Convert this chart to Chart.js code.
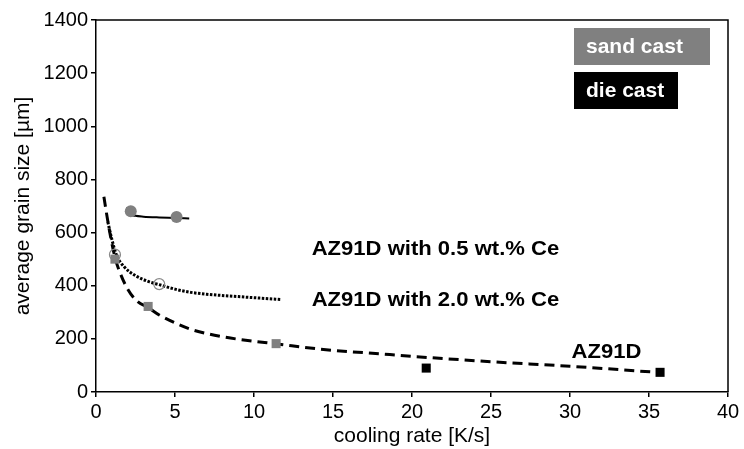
<!DOCTYPE html>
<html>
<head>
<meta charset="utf-8">
<script src="https://cdn.jsdelivr.net/npm/chart.js@4.4.1/dist/chart.umd.min.js"></script>
<style>
  html, body { margin: 0; padding: 0; background: #fff; }
  #wrap { width: 744px; height: 449px; }
</style>
</head>
<body>
<div id="wrap"><canvas id="grainChart" width="744" height="449"></canvas></div>
<script>
// measured points
const sandCeLowX = [2.2, 5.1]          // AZ91D + 0.5 wt.% Ce, sand cast
const sandCeLowY = [680, 659]
const sandCeHighX = [1.2, 4.0]         // AZ91D + 2.0 wt.% Ce
const sandCeHighY = [517, 406]
const sandBaseX = [1.2, 3.3, 11.4]     // AZ91D, sand cast
const sandBaseY = [500, 322, 182]
const dieBaseX = [20.9, 35.7]          // AZ91D, die cast
const dieBaseY = [90, 74]

// fitted trend lines
const fitCeLowX = [1.95, 2.05, 2.2, 2.5, 3, 4, 5, 5.9]
const fitCeLowY = [695, 680, 668, 663, 660, 657, 655, 653]
const fitCeHighX = [0.75, 1, 1.3, 1.8, 2.5, 3.3, 4, 5, 6, 7, 9, 11.7]
const fitCeHighY = [640, 575, 515, 470, 438, 416, 404, 387, 375, 368, 359, 348]
const fitBaseX = [0.5, 0.7, 0.9, 1.2, 1.5, 2, 2.6, 3.3, 4, 5, 6, 8, 10, 11.3, 14.4, 18.6, 20.3, 25, 30, 35.5]
const fitBaseY = [735, 660, 592, 507, 452, 388, 342, 318, 290, 260, 236, 208, 191, 182, 160, 141, 133, 114, 97, 74]

const xTicks = [0, 5, 10, 15, 20, 25, 30, 35, 40]
const yTicks = [0, 200, 400, 600, 800, 1000, 1200, 1400]

const FONT = "'Liberation Sans', Arial, sans-serif"

function pts (xs, ys) {
  return xs.map((x, i) => ({ x: x, y: ys[i] }))
}

// curve labels, anchored in data units
const curveLabels = [
  { text: 'AZ91D with 0.5 wt.% Ce', x: 13.65, y: 539 },
  { text: 'AZ91D with 2.0 wt.% Ce', x: 13.65, y: 344 },
  { text: 'AZ91D', x: 30.1, y: 150 }
]

const framePlugin = {
  id: 'frameAndNotes',
  afterDraw: function (chart) {
    const ctx = chart.ctx
    const a = chart.chartArea
    const xs = chart.scales.x
    const ys = chart.scales.y
    ctx.save()
    // top + right border
    ctx.strokeStyle = '#000'
    ctx.lineWidth = 1.5
    ctx.beginPath()
    ctx.moveTo(a.left, a.top)
    ctx.lineTo(a.right, a.top)
    ctx.lineTo(a.right, a.bottom)
    ctx.stroke()

    // curve labels
    ctx.fillStyle = '#000'
    ctx.font = 'bold 21px ' + FONT
    ctx.textBaseline = 'middle'
    ctx.textAlign = 'left'
    curveLabels.forEach(function (l) {
      const px = xs.getPixelForValue(l.x)
      const py = ys.getPixelForValue(l.y)
      ctx.save()
      ctx.translate(px, py)
      ctx.scale(1.05, 1)
      ctx.fillText(l.text, 0, 0)
      ctx.restore()
    })

    // legend boxes
    const boxes = [
      { text: 'sand cast', color: '#808080', top: 8, w: 136 },
      { text: 'die cast', color: '#000', top: 52, w: 104 }
    ]
    ctx.font = 'bold 21px ' + FONT
    boxes.forEach(function (b) {
      const left = a.right - 154
      ctx.fillStyle = b.color
      ctx.fillRect(left, a.top + b.top, b.w, 37)
      ctx.fillStyle = '#fff'
      ctx.fillText(b.text, left + 12, a.top + b.top + 19)
    })
    ctx.restore()
  }
}

const ctx = document.getElementById('grainChart').getContext('2d')
const chart = new Chart(ctx, {
  type: 'scatter',
  data: {
    datasets: [
      {
        label: 'die cast AZ91D',
        data: pts(dieBaseX, dieBaseY),
        pointStyle: 'rect',
        pointRadius: 6.4,
        backgroundColor: '#000',
        borderColor: '#000',
        borderWidth: 0
      },
      {
        label: 'sand cast AZ91D',
        data: pts(sandBaseX, sandBaseY),
        pointStyle: 'rect',
        pointRadius: 6.4,
        backgroundColor: '#808080',
        borderColor: '#808080',
        borderWidth: 0
      },
      {
        label: 'sand cast 2.0 Ce',
        data: pts(sandCeHighX, sandCeHighY),
        pointStyle: 'circle',
        pointRadius: 5.5,
        backgroundColor: 'rgba(255,255,255,0)',
        borderColor: '#888',
        borderWidth: 1.2
      },
      {
        label: 'sand cast 0.5 Ce',
        data: pts(sandCeLowX, sandCeLowY),
        pointStyle: 'circle',
        pointRadius: 6,
        backgroundColor: '#808080',
        borderColor: '#808080',
        borderWidth: 0
      },
      {
        label: 'fit 0.5 Ce',
        data: pts(fitCeLowX, fitCeLowY),
        showLine: true,
        pointRadius: 0,
        borderColor: '#000',
        borderWidth: 2,
        cubicInterpolationMode: 'monotone',
        fill: false
      },
      {
        label: 'fit 2.0 Ce',
        data: pts(fitCeHighX, fitCeHighY),
        showLine: true,
        pointRadius: 0,
        borderColor: '#000',
        borderWidth: 3,
        borderDash: [2.5, 1.5],
        cubicInterpolationMode: 'monotone',
        fill: false
      },
      {
        label: 'fit AZ91D',
        data: pts(fitBaseX, fitBaseY),
        showLine: true,
        pointRadius: 0,
        borderColor: '#000',
        borderWidth: 3,
        borderDash: [10, 6],
        cubicInterpolationMode: 'monotone',
        fill: false
      }
    ]
  },
  options: {
    responsive: false,
    animation: false,
    layout: { padding: { top: 20, right: 16, left: 0, bottom: 0 } },
    plugins: {
      legend: { display: false },
      tooltip: { enabled: false }
    },
    scales: {
      x: {
        type: 'linear',
        min: 0,
        max: 40,
        afterBuildTicks: function (s) { s.ticks = xTicks.map(v => ({ value: v })) },
        afterFit: function (s) { s.height = 57 },
        grid: { drawOnChartArea: false, drawTicks: true, tickLength: 5, tickColor: '#000', lineWidth: 1.5 },
        border: { color: '#000', width: 1.5 },
        ticks: { color: '#000', padding: 3, font: { family: FONT, size: 20 }, callback: v => String(v) },
        title: { display: true, text: 'cooling rate [K/s]', color: '#000', font: { family: FONT, size: 21 }, padding: { top: 0, bottom: 0 } }
      },
      y: {
        type: 'linear',
        min: 0,
        max: 1400,
        afterBuildTicks: function (s) { s.ticks = yTicks.map(v => ({ value: v })) },
        afterFit: function (s) { s.width = 96 },
        grid: { drawOnChartArea: false, drawTicks: true, tickLength: 5, tickColor: '#000', lineWidth: 1.5 },
        border: { color: '#000', width: 1.5 },
        ticks: { color: '#000', padding: 3, font: { family: FONT, size: 20 }, callback: v => String(v) },
        title: { display: true, text: 'average grain size [µm]', color: '#000', font: { family: FONT, size: 21 }, padding: { top: 11, bottom: 0 } }
      }
    }
  },
  plugins: [framePlugin]
})
</script>
</body>
</html>
